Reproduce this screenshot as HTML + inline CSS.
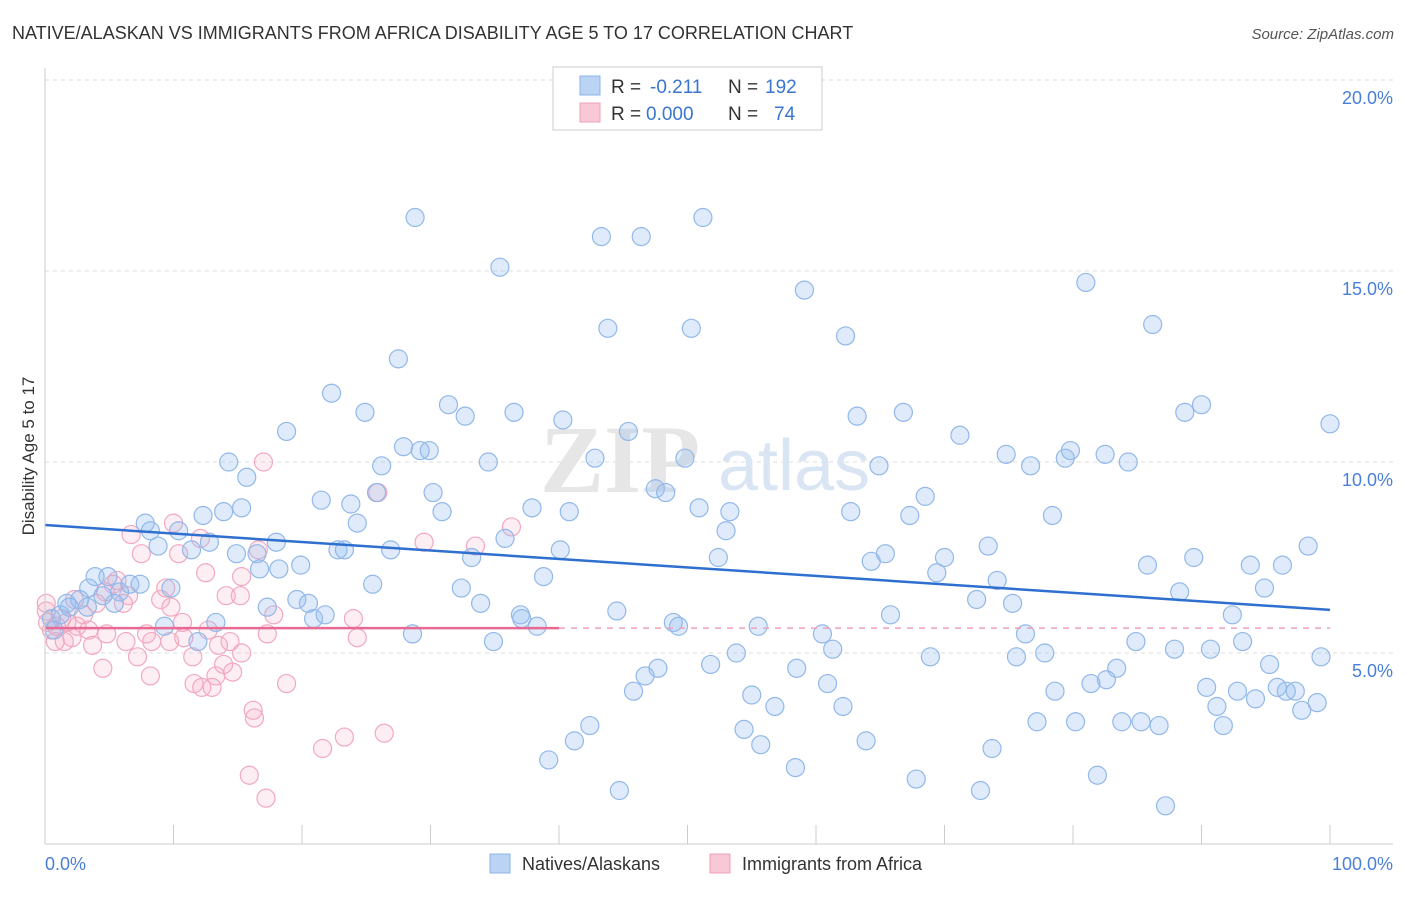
<!DOCTYPE html>
<html><head><meta charset="utf-8"><style>
html,body{margin:0;padding:0;background:#fff;}
body{width:1406px;height:892px;overflow:hidden;font-family:"Liberation Sans",sans-serif;}
</style></head><body>
<svg width="1406" height="892" xmlns="http://www.w3.org/2000/svg">
<text x="12" y="39" font-size="18" fill="#333">NATIVE/ALASKAN VS IMMIGRANTS FROM AFRICA DISABILITY AGE 5 TO 17 CORRELATION CHART</text>
<text x="1394" y="39" font-size="15" fill="#555" font-style="italic" text-anchor="end">Source: ZipAtlas.com</text>
<g id="grid"></g>
<text x="700" y="492" font-size="96" fill="#e6e6e6" text-anchor="end" font-family="Liberation Serif,serif" font-weight="bold">ZIP</text>
<text x="718" y="490" font-size="72" fill="#dae5f4">atlas</text>
<g id="pts"></g>
<g id="trend"></g>
<g id="axes"></g>
<text transform="translate(34,456) rotate(-90)" font-size="17" fill="#333" text-anchor="middle">Disability Age 5 to 17</text>
<g>
<rect x="553" y="67" width="269" height="63" fill="#fff" stroke="#ccc"/>
<rect x="580" y="76" width="20" height="19" fill="#bcd4f4" stroke="#8db4e8"/>
<rect x="580" y="103" width="20" height="19" fill="#f8c8d6" stroke="#f0a0b8"/>
<text x="611" y="93" font-size="19" fill="#333">R = </text><text x="650" y="93" font-size="19" fill="#3a75d0">-0.211</text>
<text x="728" y="93" font-size="19" fill="#333">N = </text><text x="765" y="93" font-size="19" fill="#3a75d0">192</text>
<text x="611" y="120" font-size="19" fill="#333">R = </text><text x="646" y="120" font-size="19" fill="#3a75d0">0.000</text>
<text x="728" y="120" font-size="19" fill="#333">N = </text><text x="774" y="120" font-size="19" fill="#3a75d0">74</text>
</g>
<g>
<rect x="490" y="854" width="20" height="19" fill="#bcd4f4" stroke="#8db4e8"/>
<text x="522" y="870" font-size="18" fill="#333">Natives/Alaskans</text>
<rect x="710" y="854" width="20" height="19" fill="#f8c8d6" stroke="#f0a0b8"/>
<text x="742" y="870" font-size="18" fill="#333">Immigrants from Africa</text>
</g>
</svg>
<script>
const yTicks=[5,10,15,20];
const yTickLabels=["5.0%","10.0%","15.0%","20.0%"];
const xTickLabels=["0.0%","100.0%"];
const blueX=[28.8,43.3,46.4,51.2,35.4,59.1,81.0,43.8,50.3,62.3,86.2,27.5,22.3,24.9,31.4,32.7,36.5,40.3,63.2,66.8,88.7,90.0,100.0,18.8,27.9,29.2,29.9,45.4,71.2,14.3,26.2,34.5,42.8,49.8,64.9,74.8,76.7,79.4,79.8,82.5,84.3,15.7,30.2,21.5,23.8,25.8,47.5,48.3,68.5,12.3,13.9,15.3,24.3,30.9,37.9,40.8,50.9,53.3,62.7,67.3,78.4,7.8,8.2,8.8,10.4,11.4,12.8,14.9,16.5,18.0,22.8,23.3,26.9,35.8,40.1,52.4,53.0,64.3,65.4,70.0,73.4,85.8,89.4,93.8,96.3,98.3,16.7,18.2,19.9,25.5,32.4,33.2,38.8,69.4,74.1,88.3,94.9,3.9,4.9,6.6,7.4,5.8,9.8,3.4,2.7,1.7,4.5,5.4,3.3,1.2,1.9,0.5,0.7,17.3,19.6,20.5,20.9,21.8,33.9,37.0,37.1,38.3,44.5,48.9,49.3,55.5,65.8,72.5,75.3,92.4,9.3,11.9,13.3,28.6,34.9,60.5,76.3,84.9,87.9,90.7,93.2,51.8,53.8,58.5,47.7,46.7,61.3,68.9,75.6,77.8,83.4,95.3,99.3,45.8,55.0,56.8,60.9,62.1,78.6,81.4,82.6,90.4,91.2,92.8,94.2,95.9,97.3,97.8,99.0,96.6,42.4,41.2,54.4,55.7,63.9,77.2,80.2,83.8,85.3,86.7,91.7,73.7,39.2,58.4,67.8,72.8,81.9,44.7,87.2];
const blueY=[16.4,15.9,15.9,16.4,15.1,14.5,14.7,13.5,13.5,13.3,13.6,12.7,11.8,11.3,11.5,11.2,11.3,11.1,11.2,11.3,11.3,11.5,11.0,10.8,10.4,10.3,10.3,10.8,10.7,10.0,9.9,10.0,10.1,10.1,9.9,10.2,9.9,10.1,10.3,10.2,10.0,9.6,9.2,9.0,8.9,9.2,9.3,9.2,9.1,8.6,8.7,8.8,8.4,8.7,8.8,8.7,8.8,8.7,8.7,8.6,8.6,8.4,8.2,7.8,8.2,7.7,7.9,7.6,7.6,7.9,7.7,7.7,7.7,8.0,7.7,7.5,8.2,7.4,7.6,7.5,7.8,7.3,7.5,7.3,7.3,7.8,7.2,7.2,7.3,6.8,6.7,7.5,7.0,7.1,6.9,6.6,6.7,7.0,7.0,6.8,6.8,6.6,6.7,6.7,6.4,6.3,6.5,6.3,6.2,6.0,6.2,5.9,5.6,6.2,6.4,6.3,5.9,6.0,6.3,6.0,5.9,5.7,6.1,5.8,5.7,5.7,6.0,6.4,6.3,6.0,5.7,5.3,5.8,5.5,5.3,5.5,5.5,5.3,5.1,5.1,5.3,4.7,5.0,4.6,4.6,4.4,5.1,4.9,4.9,5.0,4.6,4.7,4.9,4.0,3.9,3.6,4.2,3.6,4.0,4.2,4.3,4.1,3.6,4.0,3.8,4.1,4.0,3.5,3.7,4.0,3.1,2.7,3.0,2.6,2.7,3.2,3.2,3.2,3.2,3.1,3.1,2.5,2.2,2.0,1.7,1.4,1.8,1.4,1.0];
const pinkX=[17.0,25.9,29.5,33.5,36.3,6.7,7.5,10.0,10.4,12.1,16.6,12.5,15.3,5.6,5.3,4.7,6.5,4.0,6.1,9.0,9.4,9.8,14.1,15.2,17.8,24.0,2.3,3.0,1.3,1.7,0.9,0.5,0.2,2.5,3.4,2.1,1.5,3.7,4.8,6.3,7.9,8.3,10.7,10.8,12.7,13.5,11.5,7.2,15.3,17.3,24.3,4.5,8.2,13.9,13.3,14.6,11.6,12.2,13.0,18.8,16.2,16.3,21.6,23.3,26.4,15.9,17.2,0.1,0.1,0.8,9.7,14.4];
const pinkY=[10.0,9.2,7.9,7.8,8.3,8.1,7.6,8.4,7.6,8.0,7.7,7.1,7.0,6.9,6.8,6.6,6.5,6.3,6.3,6.4,6.7,6.2,6.5,6.5,6.0,5.9,6.4,6.0,5.9,5.8,5.7,5.6,5.8,5.7,5.6,5.4,5.3,5.2,5.5,5.3,5.5,5.3,5.8,5.4,5.6,5.2,4.9,4.9,5.0,5.5,5.4,4.6,4.4,4.7,4.4,4.5,4.2,4.1,4.1,4.2,3.5,3.3,2.5,2.8,2.9,1.8,1.2,6.3,6.1,5.3,5.3,5.3];
const blueTrend=[8.35,6.13];
const pinkTrend=[5.65,5.65];
const NS="http://www.w3.org/2000/svg";
const X=v=>45+v*12.85;
const Y=v=>844-v*38.2;
function mk(tag,attrs,parent){const e=document.createElementNS(NS,tag);for(const k in attrs)e.setAttribute(k,attrs[k]);document.getElementById(parent).appendChild(e);return e;}
yTicks.forEach((t,i)=>{
 const g=mk('line',{x1:45,x2:1393,y1:Y(t),y2:Y(t),stroke:'#ddd','stroke-dasharray':'4,4'},'grid');
 
 
 const tx=mk('text',{x:1393,y:Y(t)+24,'font-size':18,fill:'#4a7fd8','text-anchor':'end'},'axes');
 tx.textContent=yTickLabels[i];
 
 
});
const ax=mk('line',{x1:45,x2:45,y1:68,y2:844,stroke:'#ccc'},'axes');


const bx=mk('line',{x1:45,x2:1393,y1:844,y2:844,stroke:'#ccc'},'axes');


for(let i=1;i<=10;i++){
 const tk=mk('line',{x1:X(i*10),x2:X(i*10),y1:825,y2:844,stroke:'#ccc'},'axes');
 
 
}
[[0,'start',45],[100,'end',1393]].forEach((d,i)=>{
 const t=mk('text',{x:d[2],y:870,'font-size':18,fill:'#4a7fd8','text-anchor':d[1]},'axes');
 t.textContent=xTickLabels[i];
 
 
});
pinkX.forEach((x,i)=>{
 const c=mk('circle',{cx:X(x),cy:Y(pinkY[i]),r:9,fill:'rgba(244,170,196,0.2)',stroke:'#f2a8c0','stroke-width':1.2},'pts');
 
 
});
blueX.forEach((x,i)=>{
 const c=mk('circle',{cx:X(x),cy:Y(blueY[i]),r:9,fill:'rgba(150,190,240,0.3)',stroke:'#92b8ea','stroke-width':1.2},'pts');
 
 
});
const bl=mk('line',{x1:X(0),y1:Y(blueTrend[0]),x2:X(100),y2:Y(blueTrend[1]),stroke:'#2e6fd0','stroke-width':2.5},'trend');


const pm=pinkTrend[0]+(pinkTrend[1]-pinkTrend[0])*0.4;
const p1=mk('line',{x1:X(0),y1:Y(pinkTrend[0]),x2:X(40),y2:Y(pm),stroke:'#e86a94','stroke-width':2.5},'trend');


const p2=mk('line',{x1:X(40),y1:Y(pm),x2:X(100),y2:Y(pinkTrend[1]),stroke:'#f0a0b8','stroke-width':1.5,'stroke-dasharray':'6,6'},'trend');


</script>
</body></html>
